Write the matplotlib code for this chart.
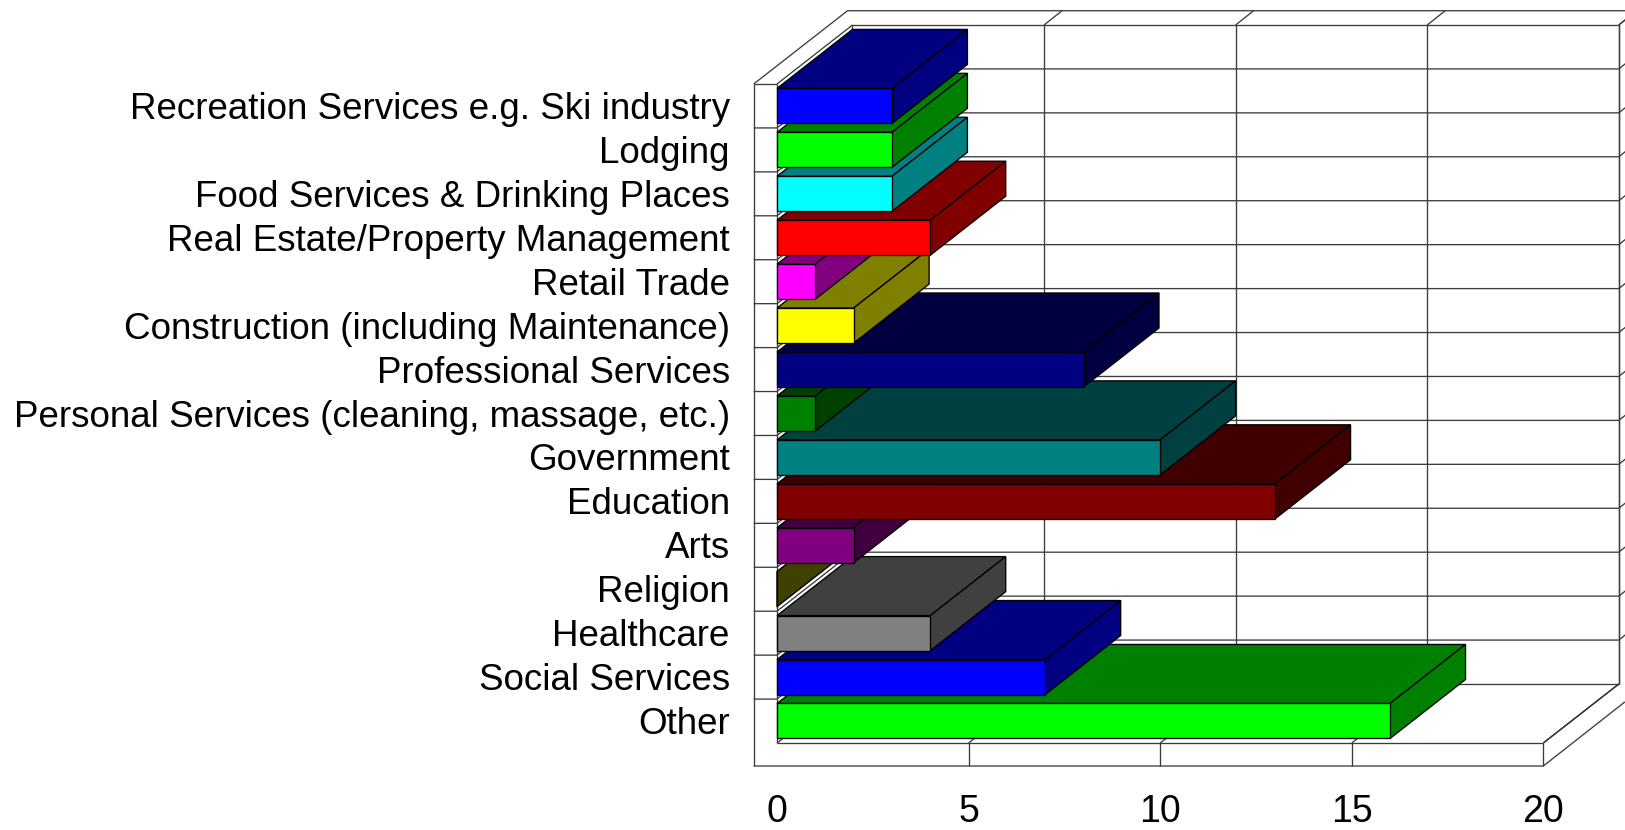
from matplotlib import pyplot as plt
from matplotlib.patches import Polygon

plt.rcParams['font.family'] = ['Liberation Sans', 'DejaVu Sans']

categories = ['Recreation Services e.g. Ski industry', 'Lodging',
              'Food Services & Drinking Places', 'Real Estate/Property Management',
              'Retail Trade', 'Construction (including Maintenance)',
              'Professional Services', 'Personal Services (cleaning, massage, etc.)',
              'Government', 'Education', 'Arts', 'Religion', 'Healthcare',
              'Social Services', 'Other']
values = [3, 3, 3, 4, 1, 2, 8, 1, 10, 13, 2, 0, 4, 7, 16]
front_colors = ['#0000ff', '#00ff00', '#00ffff', '#ff0000', '#ff00ff', '#ffff00',
                '#000080', '#008000', '#008080', '#800000', '#800080', '#808000',
                '#808080', '#0000ff', '#00ff00']
depth_colors = ['#000080', '#008000', '#008080', '#800000', '#800080', '#808000',
                '#000040', '#004000', '#004040', '#400000', '#400040', '#404000',
                '#404040', '#000080', '#008000']
x_ticks = [0, 5, 10, 15, 20]

# 3d offset of the back wall, in data units
DX = 1.97
DY = 1.343
# wall and floor slab sizes, in data units
LIP_X = 0.608
LIP_Y = 0.524
OUTER_X = 1.841
OUTER_TOP = -1.668
RIGHT_END = 23
GRID = '#3c3c3c'


def line(ax, xs, ys, color=GRID, lw=0.95):
    ax.plot(xs, ys, color=color, lw=lw, clip_on=False, zorder=1,
            solid_capstyle='butt')


def draw_frame(ax, n):
    xmax = x_ticks[-1]
    # back wall
    line(ax, [DX, DX, xmax + DX, xmax + DX], [n - DY, -DY, -DY, n - DY])
    line(ax, [DX, xmax + DX], [n - DY, n - DY])
    # outer top edge
    line(ax, [-LIP_X, OUTER_X, RIGHT_END], [0, OUTER_TOP, OUTER_TOP])
    line(ax, [-LIP_X, -LIP_X], [0, n + LIP_Y])
    line(ax, [-LIP_X, 0], [0, 0])
    line(ax, [0, DX], [0, -DY])
    line(ax, [0, 0], [0, n])
    # floor
    line(ax, [-LIP_X, xmax, xmax + 2.13], [n + LIP_Y, n + LIP_Y, n + LIP_Y - 1.46])
    line(ax, [0, xmax], [n, n])
    line(ax, [xmax, xmax + DX], [n, n - DY], color='black')
    for k in range(1, n):
        line(ax, [-LIP_X, 0, DX, xmax + DX, xmax + DX + 0.47],
             [k, k, k - DY, k - DY, k - DY - 0.325])
    line(ax, [xmax + DX, xmax + DX + 0.47], [-DY, OUTER_TOP])
    for v in x_ticks:
        line(ax, [v, v + DX], [n, n - DY])
        if v == 0:
            continue
        line(ax, [v, v], [n, n + LIP_Y])
        line(ax, [v + DX, v + DX], [n - DY, -DY])
        line(ax, [v + DX, v + DX + 0.47], [-DY, OUTER_TOP])


def draw_bar(ax, k, value, front, depth, z):
    top = k + 0.1
    bottom = k + 0.897
    faces = [
        ([(0, top), (value, top), (value + DX, top - DY), (DX, top - DY)], depth),
        ([(value, top), (value, bottom), (value + DX, bottom - DY),
          (value + DX, top - DY)], depth),
        ([(0, top), (value, top), (value, bottom), (0, bottom)], front),
    ]
    for pts, color in faces:
        ax.add_patch(Polygon(pts, closed=True, facecolor=color, edgecolor='black',
                             lw=0.95, clip_on=False, zorder=z, joinstyle='miter'))


fig = plt.figure(figsize=(16.25, 8.3), dpi=100)
ax = fig.add_axes([777 / 1625, 1 - 743 / 830, 766.3 / 1625, 659 / 830])
ax.set_xlim(x_ticks[0], x_ticks[-1])
ax.set_ylim(len(categories), 0)
ax.patch.set_visible(False)
for side in ax.spines.values():
    side.set_visible(False)

ax.set_xticks(x_ticks)
ax.set_yticks([k + 0.49 for k in range(len(categories))])
ax.set_yticklabels(categories)
ax.tick_params(axis='both', length=0, labelcolor='black')
ax.tick_params(axis='x', pad=37, labelsize=27)
ax.tick_params(axis='y', pad=34, labelsize=26.5)

draw_frame(ax, len(categories))

# excel paints the bottom bar first, upper bars cover the ones below
for k in reversed(range(len(categories))):
    draw_bar(ax, k, values[k], front_colors[k], depth_colors[k], 10 + len(categories) - k)

plt.savefig('out.png', dpi=100)
plt.close(fig)
